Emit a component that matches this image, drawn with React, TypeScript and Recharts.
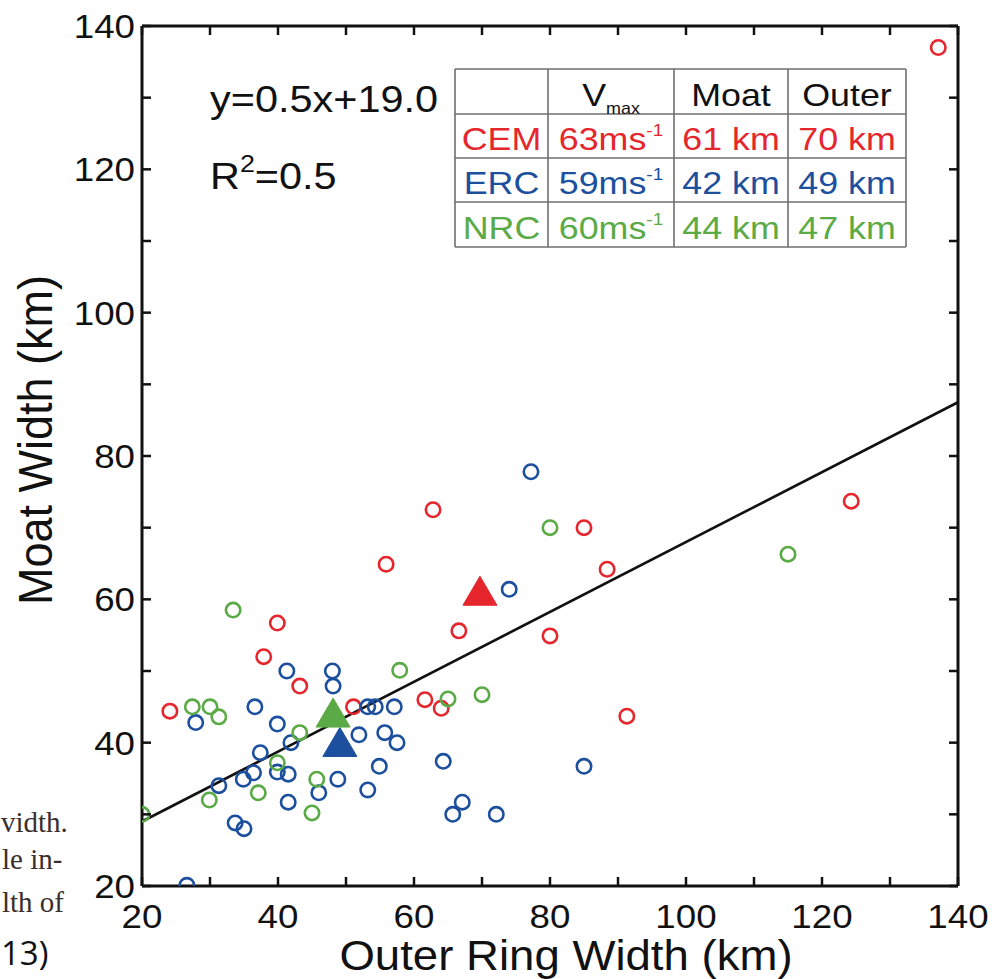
import React from 'react';
import { ScatterChart, Scatter, XAxis, YAxis, ReferenceLine } from 'recharts';

// ---- data (km) ----
const cemX = [137.1, 124.3, 85.0, 88.4, 62.8, 55.9, 66.6, 80.0, 91.3, 39.9, 37.9, 43.2, 24.1, 51.1, 61.6, 64.0];
const cemY = [137.0, 73.7, 70.0, 64.2, 72.5, 64.9, 55.6, 54.9, 43.7, 56.7, 52.0, 47.9, 44.4, 45.0, 46.0, 44.8];

const ercX = [77.2, 74.0, 41.3, 48.0, 48.1, 53.2, 54.3, 57.1, 51.9, 55.7, 57.5, 64.3, 54.9, 48.8, 46.0, 53.2, 67.1, 65.7, 72.1, 85.0, 27.9, 36.6, 39.9, 41.9, 37.4, 39.9, 41.5, 36.4, 34.9, 31.3, 41.5, 33.7, 35.0, 26.6];
const ercY = [77.8, 61.4, 50.0, 50.0, 47.9, 45.0, 45.0, 45.0, 41.1, 41.4, 40.0, 37.4, 36.7, 34.9, 33.0, 33.4, 31.7, 30.0, 30.0, 36.7, 42.8, 45.0, 42.6, 40.0, 38.6, 35.9, 35.6, 35.8, 34.9, 34.0, 31.7, 28.8, 28.0, 20.1];

const nrcX = [80.0, 57.9, 65.0, 70.0, 45.7, 45.0, 115.0, 33.4, 27.4, 30.0, 31.3, 43.2, 39.9, 29.9, 37.1, 20.0];
const nrcY = [70.0, 50.1, 46.1, 46.7, 34.9, 30.2, 66.3, 58.5, 45.0, 45.0, 43.6, 41.4, 37.2, 32.0, 33.0, 30.0];

// group means (triangles): outer ring width, moat width
const meanGroups = ['CEM', 'ERC', 'NRC'];
const meanX = [69.7, 49.1, 48.1];
const meanY = [61.2, 40.1, 44.2];

// regression line endpoints
const fitX = [20, 140];
const fitY = [29.0, 87.5];

const xTicks = [20, 30, 40, 50, 60, 70, 80, 90, 100, 110, 120, 130, 140];
const yTicks = [20, 30, 40, 50, 60, 70, 80, 90, 100, 110, 120, 130, 140];

const tableHeader = ['', 'V', 'Moat', 'Outer'];
const tableVmax = ['63', '59', '60'];
const tableMoat = ['61 km', '42 km', '44 km'];
const tableOuter = ['70 km', '49 km', '47 km'];

const RED = '#e5262d';
const BLUE = '#1c4f9e';
const GREEN = '#5aaa46';
const groupColors = [RED, BLUE, GREEN];

const toPts = (xs: number[], ys: number[]) => xs.map((x, i) => ({ x, y: ys[i] }));
const cem = toPts(cemX, cemY);
const erc = toPts(ercX, ercY);
const nrc = toPts(nrcX, nrcY);
const means = meanGroups.map((g, i) => [{ x: meanX[i], y: meanY[i], g }]);

const FONT = '"Liberation Sans", Arial, sans-serif';
const SX = 1.08;

const circleShape = (color: string) => (p: any) => (
  <circle cx={p.cx} cy={p.cy} r={7.2} fill="none" stroke={color} strokeWidth={2.6} />
);
const triShape = (color: string) => (p: any) => (
  <polygon
    points={`${p.cx},${p.cy - 14.5} ${p.cx + 17},${p.cy + 14.5} ${p.cx - 17},${p.cy + 14.5}`}
    fill={color}
    stroke={color}
    strokeWidth={1}
  />
);

const TL = 9; // inward tick length
const TW = 2.5;

const BottomTick = (p: any) => {
  const v = p.payload.value;
  return (
    <g>
      <line x1={p.x} y1={p.y} x2={p.x} y2={p.y - TL} stroke="#111" strokeWidth={TW} />
      {v % 20 === 0 && (
        <text transform={`translate(${p.x},${p.y + 42}) scale(${SX},1)`} textAnchor="middle" fontFamily={FONT} fontSize={34} fill="#111">
          {v}
        </text>
      )}
    </g>
  );
};
const TopTick = (p: any) => (
  <line x1={p.x} y1={p.y} x2={p.x} y2={p.y + TL} stroke="#111" strokeWidth={TW} />
);
const LeftTick = (p: any) => {
  const v = p.payload.value;
  return (
    <g>
      <line x1={p.x} y1={p.y} x2={p.x + TL} y2={p.y} stroke="#111" strokeWidth={TW} />
      {v % 20 === 0 && (
        <text transform={`translate(${p.x - 7},${p.y + 12}) scale(${SX},1)`} textAnchor="end" fontFamily={FONT} fontSize={34} fill="#111">
          {v}
        </text>
      )}
    </g>
  );
};
const RightTick = (p: any) => (
  <line x1={p.x} y1={p.y} x2={p.x - TL} y2={p.y} stroke="#111" strokeWidth={TW} />
);

const axisLine = { stroke: '#111', strokeWidth: 3 };

// table geometry
const colX = [455, 548, 674, 788, 906];
const rowY = [69, 114, 158, 202, 247];

const Overlay = () => {
  const cellText = (text: React.ReactNode, col: number, row: number, color: string, key: string) => (
    <text
      key={key}
      transform={`translate(${(colX[col] + colX[col + 1]) / 2},${rowY[row + 1] - 8}) scale(1.12,1)`}
      textAnchor="middle"
      fontFamily={FONT}
      fontSize={32}
      fill={color}
    >
      {text}
    </text>
  );
  const lines: React.ReactNode[] = [];
  colX.forEach((x, i) => lines.push(<line key={'c' + i} x1={x} y1={rowY[0]} x2={x} y2={rowY[4]} stroke="#6f6f6f" strokeWidth={1.6} />));
  rowY.forEach((y, i) => lines.push(<line key={'r' + i} x1={colX[0]} y1={y} x2={colX[4]} y2={y} stroke="#6f6f6f" strokeWidth={1.6} />));
  const cells: React.ReactNode[] = [];
  meanGroups.forEach((g, r) => {
    const c = groupColors[r];
    cells.push(cellText(g, 0, r + 1, c, 'g' + r));
    cells.push(
      cellText(
        <>
          {tableVmax[r]}ms
          <tspan fontSize={17} dy={-14}>-1</tspan>
        </>,
        1,
        r + 1,
        c,
        'v' + r
      )
    );
    cells.push(cellText(tableMoat[r], 2, r + 1, c, 'm' + r));
    cells.push(cellText(tableOuter[r], 3, r + 1, c, 'o' + r));
  });
  return (
    <svg width={1002} height={979} style={{ position: 'absolute', left: 0, top: 0, pointerEvents: 'none' }}>
      {/* regression equation */}
      <text transform={`translate(210,112) scale(1.12,1)`} fontFamily={FONT} fontSize={37} fill="#111">
        y=0.5x+19.0
      </text>
      <text transform={`translate(210,189) scale(1.12,1)`} fontFamily={FONT} fontSize={37} fill="#111">
        R<tspan fontSize={24} dy={-17}>2</tspan>
        <tspan dy={17}>=0.5</tspan>
      </text>
      {/* table */}
      <rect x={colX[0]} y={rowY[0]} width={colX[4] - colX[0]} height={rowY[4] - rowY[0]} fill="#fff" />
      {lines}
      {cellText(
        <>
          V<tspan fontSize={16} dy={8}>max</tspan>
        </>,
        1,
        0,
        '#111',
        'hv'
      )}
      {cellText(tableHeader[2], 2, 0, '#111', 'hm')}
      {cellText(tableHeader[3], 3, 0, '#111', 'ho')}
      {cells}
      {/* axis titles */}
      <text transform={`translate(566,970) scale(1.06,1)`} textAnchor="middle" fontFamily={FONT} fontSize={43} fill="#111">
        Outer Ring Width (km)
      </text>
      <text transform={`translate(52,440) rotate(-90) scale(1,1.06)`} textAnchor="middle" fontFamily={FONT} fontSize={45} fill="#111">
        Moat Width (km)
      </text>
      {/* cropped caption fragments from the source page */}
      <text x={1} y={832} fontFamily='"Liberation Serif", "Times New Roman", serif' fontSize={29} fill="#3a2e2e">vidth.</text>
      <text x={2} y={869} fontFamily='"Liberation Serif", "Times New Roman", serif' fontSize={29} fill="#3a2e2e">le in-</text>
      <text x={2} y={912} fontFamily='"Liberation Serif", "Times New Roman", serif' fontSize={29} fill="#3a2e2e">lth of</text>
      <text x={1} y={965} fontFamily={'"Open Sans", sans-serif'} fontSize={33} fill="#111">13)</text>
    </svg>
  );
};

export default function App() {
  return (
    <div style={{ position: 'absolute', left: 0, top: 0, width: 1002, height: 979, background: '#fff' }}>
      <ScatterChart width={1002} height={979} margin={{ top: 25, right: 43, bottom: 13, left: 12 }}>
        <XAxis
          xAxisId="b"
          dataKey="x"
          type="number"
          orientation="bottom"
          domain={[20, 140]}
          ticks={xTicks}
          interval={0}
          height={80}
          tickSize={0}
          tickMargin={0}
          tickLine={false}
          axisLine={axisLine}
          tick={(p: any) => <BottomTick {...p} />}
          allowDataOverflow
        />
        <XAxis
          xAxisId="t"
          dataKey="x"
          type="number"
          orientation="top"
          domain={[20, 140]}
          ticks={xTicks}
          interval={0}
          height={1}
          tickSize={0}
          tickMargin={0}
          tickLine={false}
          axisLine={axisLine}
          tick={(p: any) => <TopTick {...p} />}
          allowDataOverflow
        />
        <YAxis
          yAxisId="l"
          dataKey="y"
          type="number"
          orientation="left"
          domain={[20, 140]}
          ticks={yTicks}
          interval={0}
          width={130}
          tickSize={0}
          tickMargin={0}
          tickLine={false}
          axisLine={axisLine}
          tick={(p: any) => <LeftTick {...p} />}
          allowDataOverflow
        />
        <YAxis
          yAxisId="r"
          dataKey="y"
          type="number"
          orientation="right"
          domain={[20, 140]}
          ticks={yTicks}
          interval={0}
          width={1}
          tickSize={0}
          tickMargin={0}
          tickLine={false}
          axisLine={axisLine}
          tick={(p: any) => <RightTick {...p} />}
          allowDataOverflow
        />
        <ReferenceLine
          xAxisId="b"
          yAxisId="l"
          segment={[
            { x: fitX[0], y: fitY[0] },
            { x: fitX[1], y: fitY[1] },
          ]}
          stroke="#111"
          strokeWidth={2.6}
        />
        <Scatter xAxisId="b" yAxisId="l" name="CEM" data={cem} shape={circleShape(RED)} isAnimationActive={false} />
        <Scatter xAxisId="b" yAxisId="l" name="ERC" data={erc} shape={circleShape(BLUE)} isAnimationActive={false} />
        <Scatter xAxisId="b" yAxisId="l" name="NRC" data={nrc} shape={circleShape(GREEN)} isAnimationActive={false} />
        {means.map((d, i) => (
          <Scatter
            key={meanGroups[i]}
            xAxisId="b"
            yAxisId="l"
            name={meanGroups[i] + ' mean'}
            data={d}
            shape={triShape(groupColors[i])}
            isAnimationActive={false}
          />
        ))}
      </ScatterChart>
      <Overlay />
    </div>
  );
}
